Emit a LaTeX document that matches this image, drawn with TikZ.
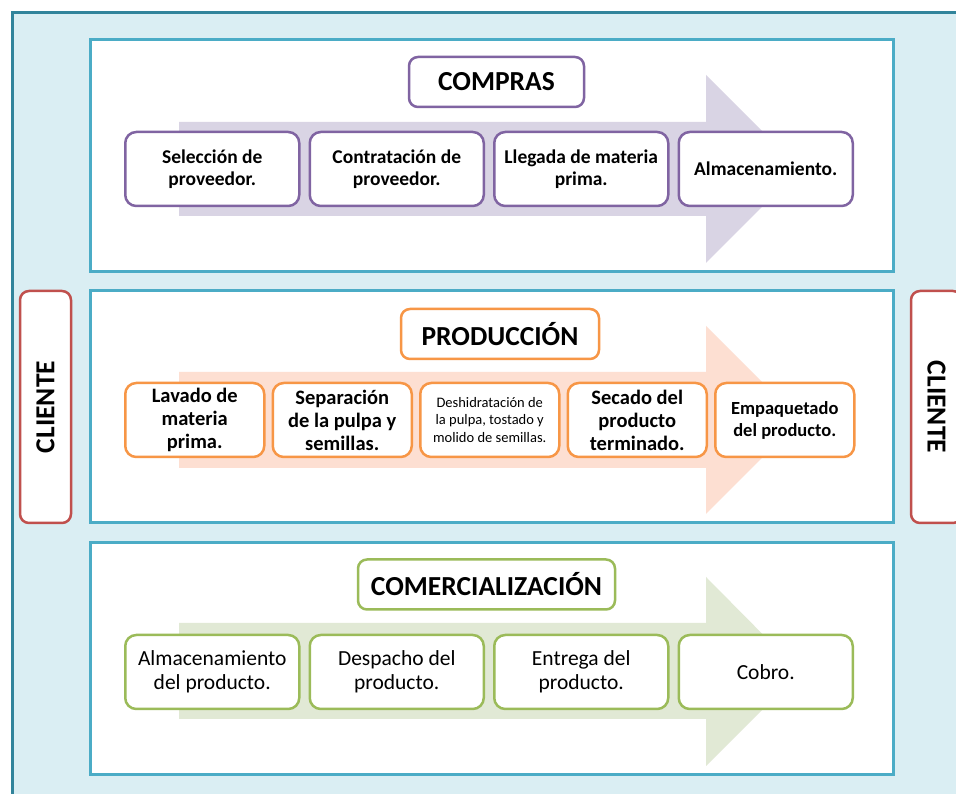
\documentclass[tikz,border=0pt]{standalone}
\usepackage{fontspec}
\setmainfont{Carlito}
\usepackage{tikz}
\usetikzlibrary{positioning}
\definecolor{colorFrame}{HTML}{31849B}
\definecolor{colorBack}{HTML}{DAEEF3}
\definecolor{colorPanel}{HTML}{4BACC6}
\definecolor{colorClient}{HTML}{C0504D}
\definecolor{colorBuy}{HTML}{8064A2}
\definecolor{colorBuyArrow}{HTML}{D9D4E4}
\definecolor{colorMake}{HTML}{F79646}
\definecolor{colorMakeArrow}{HTML}{FDDFD2}
\definecolor{colorSell}{HTML}{9BBB59}
\definecolor{colorSellArrow}{HTML}{E1E9D5}
\tikzset{
  panel/.style={draw=colorPanel, fill=white, line width=3pt, minimum width=803pt, minimum height=232pt},
  client/.style={draw=colorClient, fill=white, line width=2.5pt, rounded corners=9pt, minimum width=232pt, minimum height=51pt, font=\fontsize{27.5}{32}\selectfont\bfseries},
  title/.style={draw=#1, fill=white, line width=2.5pt, rounded corners=9pt, minimum height=50pt, font=\fontsize{27.5}{32}\selectfont\bfseries},
  stage/.style={draw=#1, fill=white, line width=2.5pt, rounded corners=11pt, minimum width=174pt, minimum height=74pt, inner sep=3pt, align=center, font=\fontsize{19.5}{22.5}\selectfont\bfseries}
}

\begin{document}
\begin{tikzpicture}[x=1pt, y=1pt, node distance=8pt]
\clip (0,0) rectangle (956,794);
\draw[draw=colorFrame, fill=colorBack, line width=3pt] (12.5,-20) rectangle (990,781.5);

\node[panel] (compras) at (491.5,638) {};
\node[panel] (produccion) at (491.5,387) {};
\node[panel] (comercial) at (491.5,135) {};
\node[client, rotate=90] (clienteL) at (45.5,387) {CLIENTE};
\node[client, rotate=-90] (clienteR) at (936.5,387) {CLIENTE};

% arrows behind the stages
\fill[colorBuyArrow] (179,578) -- (179,672) -- (706,672) -- (706,719) -- (800,625) -- (706,531) -- (706,578) -- cycle;
\fill[colorMakeArrow] (179,326) -- (179,422) -- (706,422) -- (706,468) -- (800,374) -- (706,280) -- (706,326) -- cycle;
\fill[colorSellArrow] (179,75) -- (179,171) -- (706,171) -- (706,217) -- (800,122) -- (706,28) -- (706,75) -- cycle;

\node[title=colorBuy, minimum width=175pt] (tCompras) at (496.5,712) {COMPRAS};
\node[title=colorMake, minimum width=198pt] (tProduccion) at (500,460) {PRODUCCIÓN};
\node[title=colorSell, minimum width=257pt] (tComercial) at (486.5,209.5) {COMERCIALIZACIÓN};

\node[stage=colorBuy] (c1) at (212.25,625) {Selección de\\proveedor.};
\node[stage=colorBuy, right=of c1] (c2) {Contratación de\\proveedor.};
\node[stage=colorBuy, right=of c2] (c3) {Llegada de materia\\prima.};
\node[stage=colorBuy, right=of c3] (c4) {Almacenamiento.};

\node[stage=colorMake, minimum width=139pt, font=\fontsize{20.5}{23}\selectfont\bfseries] (p1) at (194.75,374) {Lavado de\\materia\\prima.};
\node[stage=colorMake, minimum width=139pt, font=\fontsize{20.5}{23}\selectfont\bfseries, right=6pt of p1] (p2) {Separación\\de la pulpa y\\semillas.};
\node[stage=colorMake, minimum width=139pt, font=\fontsize{14.5}{17.5}\selectfont, right=6pt of p2] (p3) {Deshidratación de\\la pulpa, tostado y\\molido de semillas.};
\node[stage=colorMake, minimum width=139pt, font=\fontsize{20.5}{23}\selectfont\bfseries, right=6pt of p3] (p4) {Secado del\\producto\\terminado.};
\node[stage=colorMake, minimum width=139pt, font=\fontsize{18.5}{22}\selectfont\bfseries, right=6pt of p4] (p5) {Empaquetado\\del producto.};

\node[stage=colorSell, font=\fontsize{21.5}{24}\selectfont] (v1) at (212.25,122) {Almacenamiento\\del producto.};
\node[stage=colorSell, font=\fontsize{21.5}{24}\selectfont, right=of v1] (v2) {Despacho del\\producto.};
\node[stage=colorSell, font=\fontsize{21.5}{24}\selectfont, right=of v2] (v3) {Entrega del\\producto.};
\node[stage=colorSell, font=\fontsize{21.5}{24}\selectfont, right=of v3] (v4) {Cobro.};
\end{tikzpicture}
\end{document}
